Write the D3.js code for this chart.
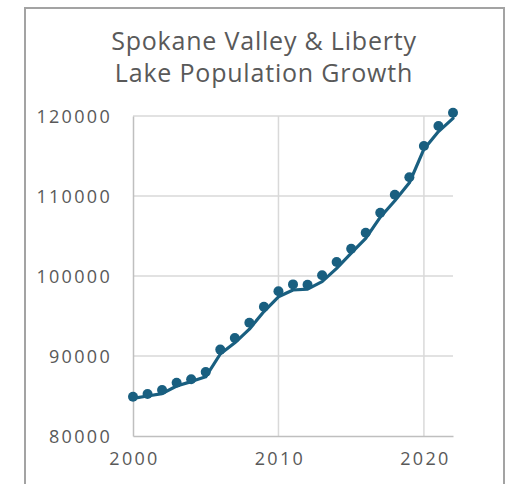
<!DOCTYPE html>
<html>
<head>
<meta charset="utf-8">
<script src="https://cdn.jsdelivr.net/npm/d3@7"></script>
<style>
  html, body { margin: 0; padding: 0; background: #fff; }
  svg { display: block; }
  text { font-family: "Open Sans", "Noto Sans", sans-serif; fill: #595959; }
</style>
</head>
<body>
<svg id="chart" width="514" height="484"></svg>
<script>
const titleLines = ["Spokane Valley & Liberty", "Lake Population Growth"];
const years = [2000, 2001, 2002, 2003, 2004, 2005, 2006, 2007, 2008, 2009, 2010,
               2011, 2012, 2013, 2014, 2015, 2016, 2017, 2018, 2019, 2020, 2021, 2022];
const markerValues = [84900, 85250, 85750, 86650, 87100, 88000, 90800, 92250, 94150, 96150, 98100,
                      98950, 98900, 100100, 101750, 103400, 105400, 107900, 110150, 112350, 116250, 118750, 120400];
const lineValues = [84700, 85000, 85300, 86250, 86800, 87400, 90250, 91650, 93350, 95550, 97400,
                    98250, 98350, 99300, 100950, 102850, 104700, 107350, 109400, 111650, 115850, 118050, 119700];
const yTicks = [80000, 90000, 100000, 110000, 120000];
const xTicks = [2000, 2010, 2020];

const svg = d3.select("#chart");
const color = "#195f80";

// outer frame
svg.append("rect")
  .attr("x", 25).attr("y", 8).attr("width", 479).attr("height", 500)
  .attr("fill", "none").attr("stroke", "#a3a3a3").attr("stroke-width", 2);

// title
svg.append("g").selectAll("text").data(titleLines).join("text")
  .attr("x", 264).attr("y", (d, i) => 50 + i * 32)
  .attr("text-anchor", "middle")
  .style("font-size", "25px")
  .style("letter-spacing", "0.8px")
  .text(d => d);

const x = d3.scaleLinear().domain([2000, 2022]).range([133, 453]);
const y = d3.scaleLinear().domain([80000, 120000]).range([436, 116]);

// gridlines
const grid = svg.append("g");
grid.selectAll("line.h").data(yTicks.filter(t => t > 80000)).join("line")
  .attr("x1", x(2000)).attr("x2", x(2022))
  .attr("y1", d => y(d)).attr("y2", d => y(d))
  .attr("stroke", "#d9d9d9").attr("stroke-width", 1.5);
grid.selectAll("line.v").data(xTicks.filter(t => t > 2000)).join("line")
  .attr("x1", d => x(d)).attr("x2", d => x(d))
  .attr("y1", y(80000)).attr("y2", y(120000))
  .attr("stroke", "#d9d9d9").attr("stroke-width", 1.5);

// axes
const yAxis = svg.append("g").attr("transform", `translate(${x(2000)},0)`)
  .call(d3.axisLeft(y).tickValues(yTicks).tickSize(0).tickPadding(21).tickFormat(d3.format("d")));
const xAxis = svg.append("g").attr("transform", `translate(0,${y(80000)})`)
  .call(d3.axisBottom(x).tickValues(xTicks).tickSize(0).tickPadding(16).tickFormat(d3.format("d")));
[yAxis, xAxis].forEach(a => {
  a.select(".domain").attr("stroke", "#bfbfbf").attr("stroke-width", 1.5);
  a.selectAll("text").style("font-size", "18px").style("letter-spacing", "2.3px")
    .attr("fill", "#595959").style("font-family", "'Open Sans', sans-serif");
});
yAxis.selectAll("text").attr("dy", "0.36em");
xAxis.selectAll("text").attr("dx", "1px");

// line series
const lineData = years.map((yr, i) => ({ yr, v: lineValues[i] }));
svg.append("path").datum(lineData)
  .attr("fill", "none").attr("stroke", color).attr("stroke-width", 3.2)
  .attr("stroke-linejoin", "round").attr("stroke-linecap", "round")
  .attr("d", d3.line().x(d => x(d.yr)).y(d => y(d.v)));

// markers
const markerData = years.map((yr, i) => ({ yr, v: markerValues[i] }));
svg.append("g").selectAll("circle").data(markerData).join("circle")
  .attr("cx", d => x(d.yr)).attr("cy", d => y(d.v)).attr("r", 5)
  .attr("fill", color);
</script>
</body>
</html>
